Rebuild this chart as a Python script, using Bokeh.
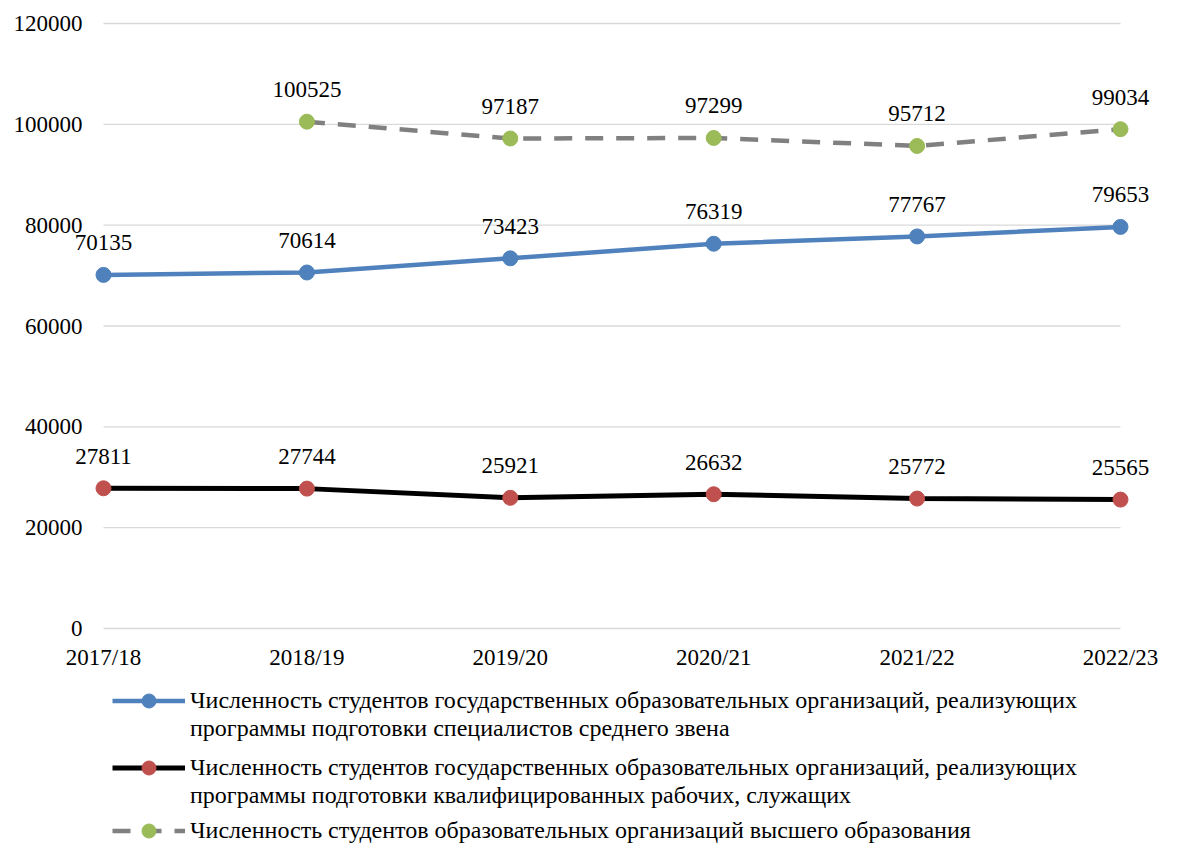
from bokeh.plotting import figure
from bokeh.models import Range1d, Legend, LegendItem
from bokeh.core.properties import value
from bokeh.embed import file_html
from bokeh.resources import INLINE

years = ["2017/18", "2018/19", "2019/20", "2020/21", "2021/22", "2022/23"]
spo = [70135, 70614, 73423, 76319, 77767, 79653]
qrw = [27811, 27744, 25921, 26632, 25772, 25565]
higher_years = ["2018/19", "2019/20", "2020/21", "2021/22", "2022/23"]
higher = [100525, 97187, 97299, 95712, 99034]
y_ticks = [0, 20000, 40000, 60000, 80000, 100000, 120000]

labels = [
    ["Численность студентов государственных образовательных организаций, реализующих",
     "программы подготовки специалистов среднего звена"],
    ["Численность студентов государственных образовательных организаций, реализующих",
     "программы подготовки квалифицированных рабочих, служащих"],
    ["Численность студентов образовательных организаций высшего образования"],
]

FONT = "Liberation Serif"
FS = "23px"

idx = {y: i for i, y in enumerate(years)}
x_all = [idx[y] for y in years]
x_hi = [idx[y] for y in higher_years]

W, H = 1165, 843
# frame covers whole canvas; first category at 103px, last category at 1120px
x0_px, x1_px = 103.0, 1120.0
ppu = (x1_px - x0_px) / (len(years) - 1)
xs_start = -x0_px / ppu
xs_end = (len(years) - 1) + (W - x1_px) / ppu
# y: 120000 at 23px from top, 0 at 628px
ytop_px, y0_px = 23.0, 628.0
ppv = (y0_px - ytop_px) / y_ticks[-1]
ys_end = y_ticks[-1] + ytop_px / ppv
ys_start = -(H - y0_px) / ppv

p = figure(width=W, height=H, output_backend="svg", toolbar_location=None,
           x_range=Range1d(xs_start, xs_end), y_range=Range1d(ys_start, ys_end),
           x_axis_location=None, y_axis_location=None,
           min_border=0)
p.outline_line_color = None
p.xgrid.visible = False
p.ygrid.visible = False

# gridlines spanning the category extent
p.segment(x0=[x_all[0]] * len(y_ticks), x1=[x_all[-1]] * len(y_ticks), y0=y_ticks, y1=y_ticks,
          line_color="#D9D9D9", line_width=1.3)

# y tick labels
p.text([x_all[0]] * len(y_ticks), y_ticks, text=[str(t) for t in y_ticks],
       text_align="right", text_baseline="middle", x_offset=-21,
       text_font=value(FONT), text_font_size=FS, text_color="#000000")
# x category labels
p.text(x_all, [0] * len(years), text=years, text_align="center", text_baseline="middle",
       y_offset=29, text_font=value(FONT), text_font_size=FS, text_color="#000000")

BLUE = "#4F81BD"
RED = "#C0504D"
GREEN = "#9BBB59"
GRAY = "#808080"

l1 = p.line(x_all, spo, line_color=BLUE, line_width=4.5)
m1 = p.scatter(x_all, spo, size=15, fill_color=BLUE, line_color=BLUE)
l2 = p.line(x_all, qrw, line_color="#000000", line_width=5)
m2 = p.scatter(x_all, qrw, size=15, fill_color=RED, line_color=RED)
l3 = p.line(x_hi, higher, line_color=GRAY, line_width=4.5, line_dash="18 13")
m3 = p.scatter(x_hi, higher, size=15, fill_color=GREEN, line_color=GREEN)

for xs, ys in ((x_all, spo), (x_all, qrw), (x_hi, higher)):
    p.text(xs, ys, text=[str(v) for v in ys], text_align="center", text_baseline="middle",
           y_offset=-32, text_font=value(FONT), text_font_size=FS, text_color="#000000")


def make_legend(items, y, glyph_h, label_h):
    return Legend(items=items, location=(112, y), orientation="vertical",
                  label_text_font=FONT, label_text_font_size="24px",
                  label_text_color="#000000", label_text_line_height=1.0,
                  glyph_width=73, glyph_height=glyph_h, label_standoff=5, label_height=label_h,
                  spacing=0, padding=0, margin=0,
                  border_line_color=None, background_fill_alpha=0)


# one legend per label line so the glyph sits on the first line of each entry
first_line_centers = [700, 767, 830]
for lab, rends, c in zip(labels, ([l1, m1], [l2, m2], [l3, m3]), first_line_centers):
    p.add_layout(make_legend([LegendItem(label=lab[0], renderers=rends)],
                             H - (c + 17.5), 35, 35), "center")
    for k, extra in enumerate(lab[1:], start=1):
        ck = c + 28 * k
        p.add_layout(make_legend([LegendItem(label=extra, renderers=[])],
                                 H - (ck + 14), 20, 28), "center")

open("out.html", "w").write(file_html(p, INLINE))
